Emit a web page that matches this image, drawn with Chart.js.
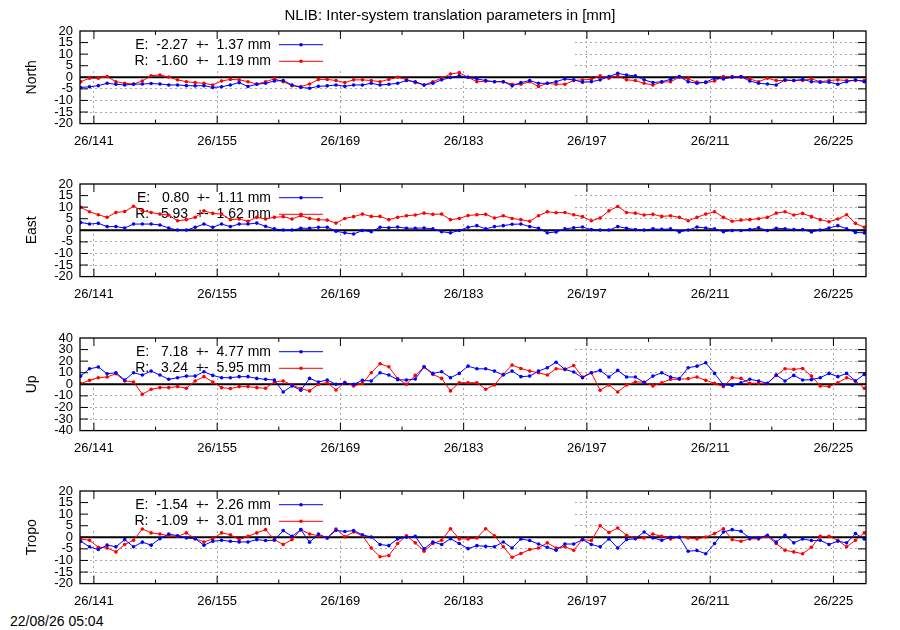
<!DOCTYPE html>
<html lang="en">
<head>
    <meta charset="UTF-8">
    <title>NLIB: Inter-system translation parameters</title>
    <script src="https://cdn.jsdelivr.net/npm/chart.js"></script>
    <style>
        html, body { margin: 0; padding: 0; background: #fff; }
        #page { position: relative; width: 900px; height: 630px; overflow: hidden;
                font-family: "Liberation Sans", Arial, sans-serif; color: #000; }
        #page canvas { position: absolute; left: 0; }
        .title { position: absolute; left: 0; top: 6px; width: 900px; text-align: center; font-size: 15px; }
        .stamp { position: absolute; left: 10px; top: 613px; font-size: 14px; }
    </style>
</head>
<body>
<div id="page">
    <canvas id="north" width="900" height="153" style="top:0px"></canvas>
    <canvas id="east" width="900" height="153" style="top:153px"></canvas>
    <canvas id="up" width="900" height="153" style="top:307px"></canvas>
    <canvas id="tropo" width="900" height="153" style="top:460px"></canvas>
    <div class="title">NLIB: Inter-system translation parameters in [mm]</div>
    <div class="stamp">22/08/26 05:04</div>
</div>

<script>
    // day of year 2026 (noon epochs)
    const days = [
        139.5, 140.5, 141.5, 142.5, 143.5, 144.5, 145.5, 146.5, 147.5, 148.5,
        149.5, 150.5, 151.5, 152.5, 153.5, 154.5, 155.5, 156.5, 157.5, 158.5,
        159.5, 160.5, 161.5, 162.5, 163.5, 164.5, 165.5, 166.5, 167.5, 168.5,
        169.5, 170.5, 171.5, 172.5, 173.5, 174.5, 175.5, 176.5, 177.5, 178.5,
        179.5, 180.5, 181.5, 182.5, 183.5, 184.5, 185.5, 186.5, 187.5, 188.5,
        189.5, 190.5, 191.5, 192.5, 193.5, 194.5, 195.5, 196.5, 197.5, 198.5,
        199.5, 200.5, 201.5, 202.5, 203.5, 204.5, 205.5, 206.5, 207.5, 208.5,
        209.5, 210.5, 211.5, 212.5, 213.5, 214.5, 215.5, 216.5, 217.5, 218.5,
        219.5, 220.5, 221.5, 222.5, 223.5, 224.5, 225.5, 226.5, 227.5, 228.5
    ];

    const xMajor = [141, 155, 169, 183, 197, 211, 225];
    const xMinor = [148, 162, 176, 190, 204, 218];
    const xLabels = ['26/141', '26/155', '26/169', '26/183', '26/197', '26/211', '26/225'];
    const xMin = 139.42, xMax = 228.7;

    const yTicks20 = [-20, -15, -10, -5, 0, 5, 10, 15, 20];
    const yTicks40 = [-40, -30, -20, -10, 0, 10, 20, 30, 40];

    const northE = [-4.4,
        -4.1, -3.6, -2.6, -3.0, -3.3, -3.0, -2.9, -2.7, -2.9, -3.3,
        -3.3, -3.6, -3.7, -3.6, -4.4, -4.1, -3.3, -2.3, -4.0, -3.0,
        -2.6, -1.6, -1.4, -3.3, -4.4, -4.7, -3.9, -3.7, -3.3, -3.9,
        -3.3, -3.3, -2.6, -3.3, -3.0, -2.6, -1.4, -1.9, -3.3, -2.6,
        -1.1, -0.1, 0.7, 0.0, -0.7, -1.4, -1.9, -1.9, -3.7, -2.3,
        -1.4, -2.6, -2.6, -1.9, -0.7, -1.1, -2.1, -1.9, -1.1, 0.3,
        1.7, 1.0, 0.6, -1.1, -2.3, -1.9, -0.9, 0.3, -1.9, -2.6,
        -2.1, -0.4, -0.7, 0.0, 0.3, -1.6, -2.6, -2.9, -3.3, -1.1,
        -1.4, -0.9, -1.9, -2.1, -2.1, -3.0, -1.9, -1.1, -1.9];
    const northR = [-1.9,
        -0.4, -0.4, 0.3, -1.9, -2.6, -2.9, -1.6, 0.7, 1.0, 0.1,
        -1.1, -1.9, -2.3, -2.6, -3.3, -1.6, -0.9, -1.1, -1.9, -2.9,
        -1.9, -0.7, -1.9, -3.6, -4.0, -2.9, -0.9, -0.9, -1.4, -2.3,
        -1.1, -1.1, -1.4, -1.9, -0.9, 0.0, -0.9, -2.3, -3.3, -1.9,
        -0.4, 1.4, 2.0, 0.0, -1.9, -1.7, -1.9, -1.9, -3.0, -3.0,
        -1.9, -4.0, -2.6, -3.0, -3.0, -1.4, -1.1, -0.9, 0.6, -0.4,
        0.6, -1.1, -1.4, -2.6, -3.3, -2.1, -1.9, 0.0, -0.7, -2.1,
        -2.3, -1.6, 0.3, 0.3, 0.0, -0.7, -1.9, -0.4, -1.4, -1.4,
        -1.4, -1.4, -0.7, -1.9, -1.4, -1.1, -1.4, -1.4, -1.4];

    const eastE = [3.4,
        2.7, 3.0, 1.6, 1.6, 1.0, 2.7, 2.7, 2.7, 2.3, 1.0,
        0.1, 0.1, 1.3, 2.7, 1.3, 2.7, 1.6, 2.7, 2.7, 3.1,
        1.7, 0.6, 0.1, 0.1, 0.9, 0.9, 1.3, 1.3, -0.4, -1.1,
        -1.6, -0.1, -0.6, 1.3, 1.1, 1.4, 0.9, 0.9, 1.0, 0.6,
        -0.6, -1.1, -0.1, 1.3, 2.0, 0.6, 1.6, 2.0, 2.6, 2.7,
        1.6, 0.9, -1.1, -0.7, 0.6, 1.1, 1.4, 0.3, 0.1, 0.1,
        1.6, 0.9, 0.3, 0.1, 0.6, 0.4, 0.6, -0.7, 0.1, 1.4,
        1.0, 0.6, -0.6, -0.1, -0.1, 0.3, 1.1, -0.1, 0.9, 0.7,
        0.3, 0.3, -0.7, 0.1, 1.0, 2.0, 0.7, -0.9, -1.1];
    const eastR = [9.9,
        8.0, 6.7, 5.6, 7.7, 8.1, 10.4, 8.4, 7.7, 7.0, 6.6,
        4.1, 4.6, 5.6, 8.4, 7.3, 7.0, 4.6, 4.9, 3.9, 5.6,
        4.9, 5.6, 5.9, 4.9, 6.3, 5.1, 4.6, 4.4, 3.1, 5.1,
        5.9, 7.0, 6.0, 6.0, 4.6, 5.6, 6.3, 6.6, 7.4, 6.9,
        7.0, 4.6, 5.1, 6.4, 6.7, 6.9, 5.3, 6.3, 5.1, 4.6,
        3.9, 6.3, 8.0, 7.6, 7.7, 6.7, 5.9, 4.1, 5.3, 8.4,
        10.3, 7.7, 7.4, 6.6, 6.9, 6.0, 6.3, 5.6, 4.1, 5.6,
        7.0, 8.0, 5.6, 3.9, 4.4, 4.6, 5.0, 5.6, 7.4, 8.0,
        6.6, 7.3, 5.9, 4.6, 3.7, 4.9, 6.7, 3.0, 1.3];

    const upE = [7.1,
        13.4, 14.9, 9.1, 10.0, 3.7, 10.0, 8.0, 11.4, 8.0, 4.3,
        5.7, 7.1, 7.1, 10.9, 7.7, 5.7, 5.7, 6.6, 6.6, 5.1,
        4.3, 3.7, -6.6, -1.4, -5.1, 5.1, 2.0, 3.7, 0.0, 1.0,
        0.0, 3.4, 2.9, 10.0, 8.0, 4.0, 3.7, 4.6, 15.1, 9.4,
        10.9, 5.7, 9.4, 15.7, 13.4, 13.4, 11.4, 8.0, 11.4, 6.6,
        7.1, 11.4, 14.3, 19.1, 12.9, 10.6, 5.7, 10.0, 12.0, 6.3,
        12.0, 6.3, 6.3, 1.4, 7.1, 10.0, 6.3, 4.9, 14.3, 15.7,
        18.6, 9.4, -0.6, -0.9, 1.4, 4.3, 2.9, 0.9, 8.0, 2.9,
        7.7, 3.7, 4.0, 5.7, 9.4, 6.6, 9.4, 2.9, 8.6];
    const upR = [0.6,
        3.4, 5.7, 6.3, 9.1, 2.9, 2.0, -8.6, -4.3, -2.9, -2.9,
        -2.0, -3.4, 2.9, 6.6, 2.0, -2.9, -3.7, -2.0, -2.0, -2.9,
        -3.4, 2.0, 2.9, -0.6, -3.7, -5.7, 0.0, 1.4, -4.9, 1.7,
        -1.4, 0.6, 10.0, 17.7, 15.1, 4.9, 0.0, 7.7, 14.9, 8.6,
        5.1, -5.7, 1.4, 1.4, 1.4, -4.3, -0.6, 8.6, 16.6, 13.7,
        11.4, 10.0, 8.0, 13.4, 12.9, 16.3, 6.3, 10.0, -5.1, -0.6,
        -6.6, -0.6, 2.0, 2.0, -1.4, 1.4, 4.3, 4.3, 4.9, 6.3,
        3.4, 0.9, -2.0, 5.7, 5.1, 0.9, 0.9, 0.6, 7.7, 13.4,
        12.9, 13.7, 7.1, -1.4, -2.0, 1.4, 5.7, 2.9, -3.4];

    const tropoE = [-1.7,
        -4.1, -5.3, -3.4, -4.1, -1.0, -4.1, -2.1, -3.4, -0.6, 1.4,
        0.7, -0.3, -0.6, -3.4, -1.7, -1.3, -1.7, -2.0, -2.0, -1.0,
        -1.4, -1.3, 2.9, 0.4, 3.3, -2.1, 1.4, -0.3, 3.0, 2.5,
        2.9, 1.1, 0.1, -3.1, -3.6, -0.7, 0.0, 0.4, -5.0, -2.0,
        -3.1, -0.6, -2.7, -4.9, -3.6, -3.9, -4.1, -2.0, -4.6, -0.7,
        -1.4, -2.9, -4.3, -5.6, -2.9, -2.9, -1.0, -3.1, -4.1, -0.7,
        -4.6, -1.0, -0.6, 2.3, -0.3, -1.3, 0.0, 0.0, -6.0, -5.7,
        -7.1, -2.7, 2.3, 3.3, 2.6, -0.3, -0.3, 0.9, -2.0, 0.9,
        -2.4, -0.7, -1.4, -1.3, -3.1, -1.7, -2.4, 1.6, -0.7];
    const tropoR = [-0.7,
        -1.3, -4.3, -4.6, -6.3, -3.1, -1.3, 3.6, 1.9, 1.4, 0.7,
        0.4, 1.9, -0.6, -2.0, -0.7, 1.9, 1.1, -1.0, 0.4, 1.9,
        3.3, -1.0, -3.1, -1.0, 3.3, 1.4, 0.7, -0.3, 3.6, 0.2,
        2.3, 0.7, -4.6, -8.4, -7.9, -2.7, 0.7, -2.4, -6.0, -2.7,
        -1.3, 3.7, -0.7, -0.7, -0.3, 3.7, 0.7, -4.1, -8.6, -7.0,
        -5.3, -4.6, -2.4, -4.6, -4.1, -5.6, -1.0, -1.4, 5.0, 2.1,
        4.0, 0.9, -0.6, -0.3, 1.4, 0.4, -0.7, 0.0, -0.3, -0.7,
        0.1, 1.6, 3.7, -1.0, -1.7, -0.7, -0.7, 0.4, -2.7, -5.6,
        -6.3, -7.1, -4.3, 0.4, 0.4, -1.3, -4.1, -1.3, 1.9];

    const keyNorth = ['E:  -2.27  +-  1.37 mm', 'R:  -1.60  +-  1.19 mm'];
    const keyEast  = ['E:   0.80  +-  1.11 mm', 'R:   5.93  +-  1.62 mm'];
    const keyUp    = ['E:   7.18  +-  4.77 mm', 'R:   3.24  +-  5.95 mm'];
    const keyTropo = ['E:  -1.54  +-  2.26 mm', 'R:  -1.09  +-  3.01 mm'];

    const FONT = '"Liberation Sans", Arial, sans-serif';
    const GRID = '#a8a8a8';
    const PLOT_TOP = 31, PLOT_H = 92.6;

    Chart.defaults.font.family = FONT;
    Chart.defaults.color = '#000';

    // frame, zero line, key and inward ticks (gnuplot look)
    const panelPlugin = {
        id: 'panel',
        beforeDatasetsDraw(chart, args, opts) {
            const { ctx, chartArea: a, scales: { y } } = chart;
            const y0 = y.getPixelForValue(0);
            ctx.save();
            // the key box hides the grid behind it
            ctx.fillStyle = '#fff';
            ctx.fillRect(a.left + 1, a.top + 1, 573 - a.left, 37);

            ctx.strokeStyle = '#000';
            ctx.lineWidth = 2;
            ctx.beginPath();
            ctx.moveTo(a.left, y0);
            ctx.lineTo(a.right, y0);
            ctx.stroke();

            ctx.font = '14px ' + FONT;
            ctx.textAlign = 'right';
            ctx.textBaseline = 'middle';
            opts.key.forEach((txt, k) => {
                const ty = a.top + 13.7 + k * 16.6;
                const col = chart.data.datasets[k].borderColor;
                ctx.fillStyle = '#000';
                ctx.fillText(txt, 271, ty);
                ctx.strokeStyle = col;
                ctx.lineWidth = 1;
                ctx.beginPath();
                ctx.moveTo(279, ty);
                ctx.lineTo(323, ty);
                ctx.stroke();
                ctx.fillStyle = col;
                ctx.beginPath();
                ctx.arc(301, ty, 1.8, 0, Math.PI * 2);
                ctx.fill();
            });

            ctx.fillStyle = '#000';
            ctx.translate(32, (a.top + a.bottom) / 2);
            ctx.rotate(-Math.PI / 2);
            ctx.textAlign = 'center';
            ctx.fillText(opts.name, 0, 0);
            ctx.restore();
        },
        afterDatasetsDraw(chart, args, opts) {
            const { ctx, chartArea: a, scales: { x, y } } = chart;
            ctx.save();
            ctx.strokeStyle = '#000';
            ctx.lineWidth = 1;
            ctx.beginPath();
            opts.yTicks.forEach(v => {
                if (v === y.min || v === y.max) return;
                const py = y.getPixelForValue(v);
                ctx.moveTo(a.left, py); ctx.lineTo(a.left + 8, py);
                ctx.moveTo(a.right, py); ctx.lineTo(a.right - 8, py);
            });
            xMajor.forEach(v => {
                const px = x.getPixelForValue(v);
                ctx.moveTo(px, a.bottom); ctx.lineTo(px, a.bottom - 8);
                ctx.moveTo(px, a.top); ctx.lineTo(px, a.top + 8);
            });
            xMinor.forEach(v => {
                const px = x.getPixelForValue(v);
                ctx.moveTo(px, a.bottom); ctx.lineTo(px, a.bottom - 4);
                ctx.moveTo(px, a.top); ctx.lineTo(px, a.top + 4);
            });
            ctx.stroke();
            ctx.lineWidth = 1.3;
            ctx.strokeRect(a.left, a.top, a.right - a.left, a.bottom - a.top);
            ctx.restore();
        }
    };

    function makePanel(id, name, eVals, rVals, yMin, yMax, yTicks, key) {
        const canvas = document.getElementById(id);
        const H = canvas.height;
        const series = (vals) => days.map((d, i) => ({ x: d, y: vals[i] }));
        const line = (vals, color) => ({
            data: series(vals),
            borderColor: color,
            backgroundColor: color,
            borderWidth: 1,
            pointRadius: 1.8,
            pointBorderWidth: 0,
            pointStyle: 'circle',
            tension: 0
        });

        return new Chart(canvas, {
            type: 'line',
            data: { datasets: [line(eVals, '#0000ff'), line(rVals, '#ff0000')] },
            options: {
                responsive: false,
                animation: false,
                events: [],
                layout: { padding: { top: PLOT_TOP, right: 34, left: 0, bottom: 0 } },
                plugins: {
                    legend: { display: false },
                    tooltip: { enabled: false },
                    panel: { name: name, key: key, yTicks: yTicks }
                },
                scales: {
                    x: {
                        type: 'linear',
                        min: xMin,
                        max: xMax,
                        afterBuildTicks: s => { s.ticks = xMajor.concat(xMinor).sort((p, q) => p - q).map(v => ({ value: v })); },
                        afterFit: s => { s.height = H - PLOT_TOP - PLOT_H; },
                        ticks: {
                            autoSkip: false,
                            maxRotation: 0,
                            padding: 10,
                            font: { size: 13 },
                            callback: v => { const k = xMajor.indexOf(v); return k >= 0 ? xLabels[k] : ''; }
                        },
                        grid: {
                            drawTicks: false,
                            lineWidth: 1,
                            color: c => (c.tick && xMajor.includes(c.tick.value)) ? GRID : 'rgba(0,0,0,0)'
                        },
                        border: { display: false, dash: [2, 3] }
                    },
                    y: {
                        min: yMin,
                        max: yMax,
                        afterBuildTicks: s => { s.ticks = yTicks.map(v => ({ value: v })); },
                        afterFit: s => { s.width = 80; },
                        ticks: {
                            autoSkip: false,
                            padding: 7,
                            font: { size: 13, lineHeight: 1 },
                            callback: v => String(v)
                        },
                        grid: {
                            drawTicks: false,
                            lineWidth: 1,
                            color: c => (!c.tick || c.tick.value === 0 || c.tick.value === yMin || c.tick.value === yMax) ? 'rgba(0,0,0,0)' : GRID
                        },
                        border: { display: false, dash: [2, 3] }
                    }
                }
            },
            plugins: [panelPlugin]
        });
    }

    makePanel('north', 'North', northE, northR, -20, 20, yTicks20, keyNorth);
    makePanel('east', 'East', eastE, eastR, -20, 20, yTicks20, keyEast);
    makePanel('up', 'Up', upE, upR, -40, 40, yTicks40, keyUp);
    makePanel('tropo', 'Tropo', tropoE, tropoR, -20, 20, yTicks20, keyTropo);
</script>
</body>
</html>
